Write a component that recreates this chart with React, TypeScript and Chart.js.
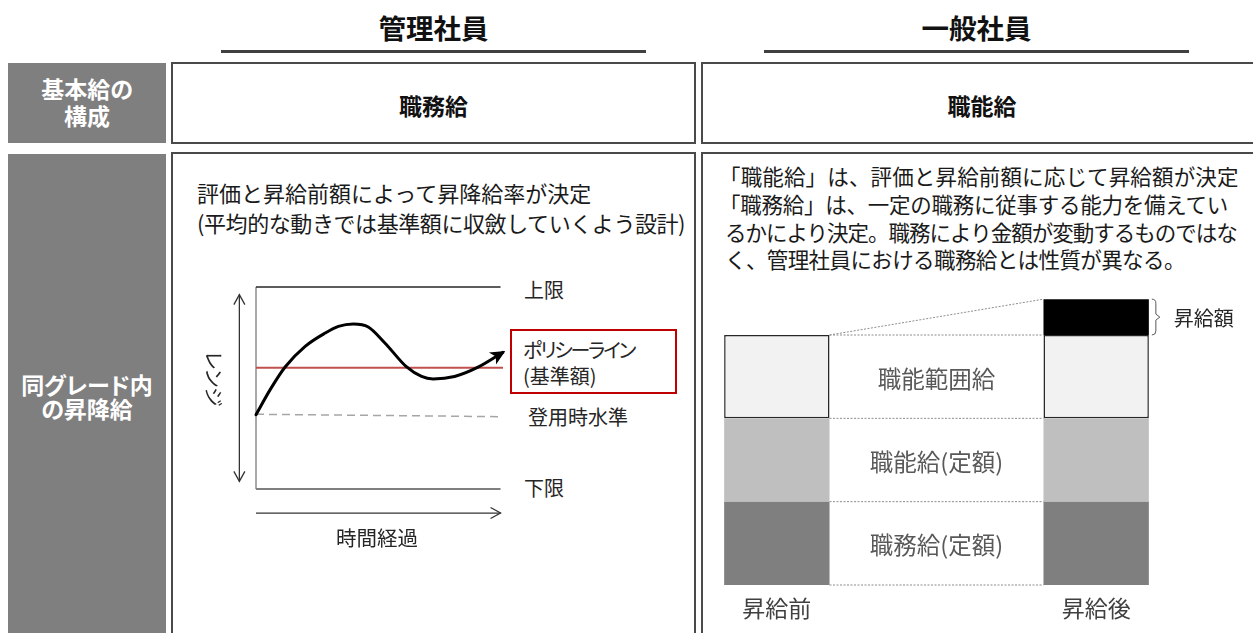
import React, { useEffect, useRef } from "react";
import { Chart, registerables } from "chart.js";

Chart.register(...registerables);

const JP = '"Noto Sans CJK JP", "Noto Sans", sans-serif';

// ---------- Left diagram data (時間経過 × レンジ) ----------
const timeValues = [0, 5.8, 11.9, 20.1, 28.3, 33.7, 39.8, 45.9, 52.7, 61.6, 67.7, 72.4, 81.2, 90.8, 100.9];
const salaryValues = [36.8, 49.2, 60.4, 70.6, 77.2, 80.5, 81.7, 80.2, 72.3, 60.4, 55.7, 54.5, 55.7, 60.3, 67.6];
const upperLimit = 100;
const lowerLimit = 0;
const limitExtent = [0, 100];
const policyLevel = 60;
const refExtent = [0, 101];
const entryLevels = [37, 35.8];
const rangeArrowTime = -6.8;
const rangeArrowLevels = [3.8, 96.2];
const timeArrowLevel = -11.9;
const timeArrowExtent = [0, 100];

// ---------- Right diagram data (stacked bars) ----------
const barLabels = ["昇給前", "", "昇給後"];
const segmentLabels = ["職務給(定額)", "職能給(定額)", "職能範囲給", "昇給額"];
const jobPayFixed = [100, null, 100];
const abilityPayFixed = [100, null, 100];
const abilityRangePay = [100, null, 100];
const raiseAmount = [null, null, 43];

// ---------- Text ----------
const leftDesc = ["評価と昇給前額によって昇降給率が決定", "(平均的な動きでは基準額に収斂していくよう設計)"];
const rightDesc = [
  "「職能給」は、評価と昇給前額に応じて昇給額が決定",
  "「職務給」は、一定の職務に従事する能力を備えてい",
  "るかにより決定。職務により金額が変動するものではな",
  "く、管理社員における職務給とは性質が異なる。",
];

const pts = (xs: number[], ys: number[]) => xs.map((x, i) => ({ x, y: ys[i] }));

const lineBase = {
  showLine: true,
  pointRadius: 0,
  pointHoverRadius: 0,
  fill: false,
  clip: false as any,
};

function RangeChart() {
  const ref = useRef<HTMLCanvasElement>(null);
  useEffect(() => {
    if (!ref.current) return;
    const arrowPlugin = {
      id: "arrowHeads",
      afterDatasetsDraw(chart: any) {
        const ctx = chart.ctx;
        chart.data.datasets.forEach((ds: any, i: number) => {
          if (!ds.arrow) return;
          const els = chart.getDatasetMeta(i).data as any[];
          const n = els.length;
          const head = (tip: any, from: any) => {
            const ang = Math.atan2(tip.y - from.y, tip.x - from.x);
            ctx.save();
            ctx.translate(tip.x, tip.y);
            ctx.rotate(ang);
            ctx.fillStyle = ds.borderColor;
            ctx.strokeStyle = ds.borderColor;
            if (ds.arrowStyle === "filled") {
              ctx.beginPath();
              ctx.moveTo(3, 0);
              ctx.lineTo(-12, -7);
              ctx.lineTo(-8, 0);
              ctx.lineTo(-12, 7);
              ctx.closePath();
              ctx.fill();
            } else {
              ctx.lineWidth = ds.borderWidth;
              ctx.beginPath();
              ctx.moveTo(-10, -5.5);
              ctx.lineTo(0, 0);
              ctx.lineTo(-10, 5.5);
              ctx.stroke();
            }
            ctx.restore();
          };
          const last = els[n - 1];
          const smooth = ds.cubicInterpolationMode === "monotone" || ds.tension;
          const prev = smooth && last.cp1x !== undefined ? { x: last.cp1x, y: last.cp1y } : els[n - 2];
          head(last, prev);
          if (ds.arrow === "both") head(els[0], els[1]);
        });
      },
    };
    const chart = new Chart(ref.current, {
      type: "scatter",
      data: {
        datasets: [
          {
            ...lineBase,
            label: "昇降給の推移",
            data: pts(timeValues, salaryValues),
            borderColor: "#000000",
            borderWidth: 3,
            cubicInterpolationMode: "monotone",
            tension: 0.4,
            borderCapStyle: "round",
            arrow: "end",
            arrowStyle: "filled",
          } as any,
          {
            ...lineBase,
            label: "ポリシーライン(基準額)",
            data: pts(refExtent, [policyLevel, policyLevel]),
            borderColor: "#c0504d",
            borderWidth: 2,
          },
          {
            ...lineBase,
            label: "上限",
            data: pts(limitExtent, [upperLimit, upperLimit]),
            borderColor: "#262626",
            borderWidth: 1.5,
          },
          {
            ...lineBase,
            label: "下限",
            data: pts(limitExtent, [lowerLimit, lowerLimit]),
            borderColor: "#7f7f7f",
            borderWidth: 2,
          },
          {
            ...lineBase,
            label: "縦軸",
            data: pts([0, 0], [lowerLimit, upperLimit]),
            borderColor: "#8c8c8c",
            borderWidth: 1.5,
          },
          {
            ...lineBase,
            label: "登用時水準",
            data: pts(refExtent, entryLevels),
            borderColor: "#a6a6a6",
            borderWidth: 1.5,
            borderDash: [8, 5],
          },
          {
            ...lineBase,
            label: "レンジ",
            data: pts([rangeArrowTime, rangeArrowTime], rangeArrowLevels),
            borderColor: "#333333",
            borderWidth: 1.3,
            arrow: "both",
            arrowStyle: "open",
          } as any,
          {
            ...lineBase,
            label: "時間経過",
            data: pts(timeArrowExtent, [timeArrowLevel, timeArrowLevel]),
            borderColor: "#333333",
            borderWidth: 1.3,
            arrow: "end",
            arrowStyle: "open",
          } as any,
        ],
      },
      options: {
        animation: false,
        responsive: false,
        events: [],
        layout: { padding: { left: 56, right: 7, top: 17, bottom: 41 } },
        scales: {
          x: { type: "linear", display: false, min: 0, max: 101 },
          y: { type: "linear", display: false, min: 0, max: 100 },
        },
        plugins: { legend: { display: false }, tooltip: { enabled: false } },
      },
      plugins: [arrowPlugin],
    });
    return () => chart.destroy();
  }, []);
  return (
    <canvas
      ref={ref}
      width={310}
      height={260}
      style={{ position: "absolute", left: 200, top: 270, width: 310, height: 260 }}
    />
  );
}

function PayBarChart() {
  const ref = useRef<HTMLCanvasElement>(null);
  useEffect(() => {
    if (!ref.current) return;
    const decor = {
      id: "barDecor",
      afterDatasetsDraw(chart: any) {
        const ctx = chart.ctx;
        const xs = chart.scales.x;
        const metas = [0, 1, 2, 3].map((i) => chart.getDatasetMeta(i));
        const L = metas[0].data[0] as any;
        const R = metas[0].data[2] as any;
        const lRight = L.x + L.width / 2;
        const rLeft = R.x - R.width / 2;
        ctx.save();
        ctx.strokeStyle = "#8c8c8c";
        ctx.lineWidth = 1;
        ctx.setLineDash([2, 1.5]);
        const levelsL = [L.base, ...[0, 1, 2].map((k) => (metas[k].data[0] as any).y)];
        const levelsR = [R.base, ...[0, 1, 2].map((k) => (metas[k].data[2] as any).y)];
        levelsL.forEach((y, k) => {
          ctx.beginPath();
          ctx.moveTo(lRight, y);
          ctx.lineTo(rLeft, levelsR[k]);
          ctx.stroke();
        });
        const raiseTop = (metas[3].data[2] as any).y;
        ctx.beginPath();
        ctx.moveTo(lRight, levelsL[3]);
        ctx.lineTo(rLeft, raiseTop);
        ctx.stroke();
        ctx.restore();

        const midX = xs.getPixelForValue(1);
        ctx.save();
        ctx.font = `23.5px ${JP}`;
        ctx.fillStyle = "#595959";
        ctx.textAlign = "center";
        ctx.textBaseline = "middle";
        [0, 1, 2].forEach((k) => {
          const el = metas[k].data[0] as any;
          ctx.fillText(chart.data.datasets[k].label, midX, (el.y + el.base) / 2 + 2);
        });
        ctx.font = `23px ${JP}`;
        ctx.fillStyle = "#404040";
        chart.data.labels.forEach((lab: string, i: number) => {
          if (!lab) return;
          ctx.fillText(lab, xs.getPixelForValue(i), chart.chartArea.bottom + 23);
        });
        const rb = metas[3].data[2] as any;
        const bx = rb.x + rb.width / 2 + 3;
        const top = rb.y;
        const bot = rb.base;
        const mid = (top + bot) / 2;
        ctx.strokeStyle = "#595959";
        ctx.lineWidth = 1;
        ctx.beginPath();
        ctx.moveTo(bx, top);
        ctx.quadraticCurveTo(bx + 4, top, bx + 4, top + 4);
        ctx.lineTo(bx + 4, mid - 3);
        ctx.lineTo(bx + 8, mid);
        ctx.lineTo(bx + 4, mid + 3);
        ctx.lineTo(bx + 4, bot - 4);
        ctx.quadraticCurveTo(bx + 4, bot, bx, bot);
        ctx.stroke();
        ctx.font = `20px ${JP}`;
        ctx.fillStyle = "#262626";
        ctx.textAlign = "left";
        ctx.fillText(chart.data.datasets[3].label, bx + 22, mid + 1);
        ctx.restore();
      },
    };
    const chart = new Chart(ref.current, {
      type: "bar",
      data: {
        labels: barLabels,
        datasets: [
          { label: segmentLabels[0], data: jobPayFixed, backgroundColor: "#7f7f7f", borderWidth: 0 },
          { label: segmentLabels[1], data: abilityPayFixed, backgroundColor: "#bfbfbf", borderWidth: 0 },
          {
            label: segmentLabels[2],
            data: abilityRangePay,
            backgroundColor: "#f2f2f2",
            borderColor: "#262626",
            borderWidth: 1.5,
            borderSkipped: false,
          },
          { label: segmentLabels[3], data: raiseAmount, backgroundColor: "#000000", borderWidth: 0 },
        ],
      },
      options: {
        animation: false,
        responsive: false,
        events: [],
        layout: { padding: { left: 7, right: 77, top: 15, bottom: 45 } },
        datasets: { bar: { categoryPercentage: 1, barPercentage: 0.66 } },
        scales: {
          x: { stacked: true, display: false },
          y: { stacked: true, display: false, min: 0, max: 360 },
        },
        plugins: { legend: { display: false }, tooltip: { enabled: false } },
      },
      plugins: [decor],
    });
    return () => chart.destroy();
  }, []);
  return (
    <canvas
      ref={ref}
      width={563}
      height={360}
      style={{ position: "absolute", left: 690, top: 270, width: 563, height: 360 }}
    />
  );
}

type TP = {
  x: number;
  y: number;
  w?: number;
  center?: boolean;
  size: number;
  lh?: number;
  bold?: boolean;
  color?: string;
  palt?: boolean;
  ls?: number;
  children: React.ReactNode;
};
function T({ x, y, w = 400, center, size, lh, bold, color = "#1a1a1a", palt, ls = 0, children }: TP) {
  const l = lh ?? size + 4;
  return (
    <div
      style={{
        position: "absolute",
        left: center ? x - w / 2 : x,
        top: y - l / 2,
        width: w,
        fontSize: size,
        lineHeight: `${l}px`,
        fontWeight: bold ? 700 : 400,
        color,
        textAlign: center ? "center" : "left",
        whiteSpace: "pre",
        letterSpacing: ls ? `${ls}px` : "normal",
        fontFeatureSettings: palt ? '"palt"' : "normal",
      }}
    >
      {children}
    </div>
  );
}

const box = (left: number, top: number, width: number, height: number, extra: any = {}) => (
  <div
    style={{
      position: "absolute",
      left,
      top,
      width,
      height,
      boxSizing: "border-box",
      ...extra,
    }}
  />
);

const rightDescLayout = [
  { x: 719, ls: 0.15 },
  { x: 719, ls: -0.25 },
  { x: 725, ls: -1.0 },
  { x: 725, ls: -0.6 },
];

export default function App() {
  const cellBorder = { border: "2px solid #4a4a4a", background: "#ffffff" };
  return (
    <div
      style={{
        position: "absolute",
        left: 0,
        top: 0,
        width: 1253,
        height: 633,
        overflow: "hidden",
        background: "#ffffff",
        fontFamily: JP,
      }}
    >
      {/* column headers */}
      <T x={433.5} y={27.5} w={425} center size={27.5} bold color="#111">管理社員</T>
      {box(221, 50, 425, 3, { background: "#404040" })}
      <T x={976.5} y={27.5} w={425} center size={27.5} bold color="#111">一般社員</T>
      {box(764, 50, 425, 3, { background: "#404040" })}

      {/* row 1 */}
      {box(8, 63, 158, 80, { background: "#7f7f7f" })}
      <T x={87} y={88} w={158} center size={23} lh={27} bold color="#ffffff" palt>
        {"基本給の\n構成"}
      </T>
      {box(171, 62, 525, 82, cellBorder)}
      <T x={433.5} y={105} w={300} center size={23} bold color="#111">職務給</T>
      {box(701, 62, 562, 82, cellBorder)}
      <T x={982} y={105} w={300} center size={23} bold color="#111">職能給</T>

      {/* row 2 */}
      {box(8, 154, 158, 500, { background: "#7f7f7f" })}
      <T x={87} y={385} w={158} center size={23} lh={23.5} bold color="#ffffff" palt>
        {"同グレード内\nの昇降給"}
      </T>
      {box(171, 152, 525, 500, cellBorder)}
      {box(701, 152, 562, 500, cellBorder)}

      <T x={197} y={191.7} size={22} lh={30} w={490}>{leftDesc[0]}</T>
      <T x={197} y={221.7} size={22} lh={30} w={490} ls={-0.42}>{leftDesc[1]}</T>
      {rightDesc.map((line, i) => (
        <T key={i} x={rightDescLayout[i].x} y={176 + i * 27.7} size={21.5} lh={27.7} w={540} ls={rightDescLayout[i].ls}>
          {line}
        </T>
      ))}

      <RangeChart />
      {box(510, 328.5, 167, 65.5, { border: "2px solid #c00000" })}
      <T x={524} y={290} size={20} color="#262626">上限</T>
      <T x={523} y={350} size={20} lh={26.7} color="#262626" palt ls={-2.2}>ポリシーライン</T>
      <T x={523} y={376.7} size={20} lh={26.7} color="#262626" palt>(基準額)</T>
      <T x={528} y={416.7} size={20} color="#262626">登用時水準</T>
      <T x={524} y={488.3} size={20} color="#262626">下限</T>
      <T x={377} y={537.5} w={120} center size={20.5} color="#262626">時間経過</T>
      <div
        style={{
          position: "absolute",
          left: 214 - 40,
          top: 379 - 12,
          width: 80,
          height: 24,
          lineHeight: "24px",
          fontSize: 20,
          textAlign: "center",
          color: "#262626",
          transform: "rotate(90deg)",
          transformOrigin: "50% 50%",
          fontFeatureSettings: '"palt"',
        }}
      >
        レンジ
      </div>

      <PayBarChart />
    </div>
  );
}
